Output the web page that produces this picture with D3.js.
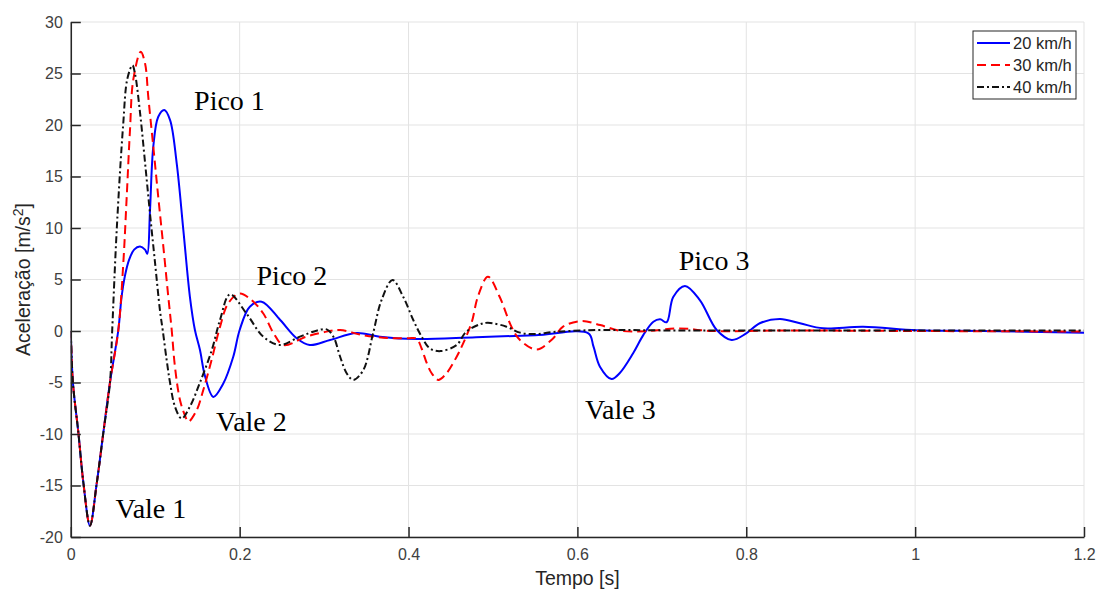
<!DOCTYPE html>
<html>
<head>
<meta charset="utf-8">
<script src="https://cdn.jsdelivr.net/npm/d3@7"></script>
<style>
  html, body { margin: 0; padding: 0; background: #fff; }
  svg { display: block; }
</style>
</head>
<body>
<svg id="chart" width="1097" height="590"></svg>
<script>
// Time instants (s) and accelerations (m/s²) for each speed
const t20 = [0, 0.0025, 0.009, 0.015, 0.0227, 0.0307, 0.0385, 0.0464, 0.0563, 0.06, 0.064, 0.069, 0.075, 0.082, 0.0879, 0.0906, 0.0938, 0.0977, 0.1036, 0.1107, 0.1175, 0.1254, 0.1333, 0.1411, 0.147, 0.153, 0.159, 0.1688, 0.1806, 0.1924, 0.2, 0.212, 0.226, 0.248, 0.2675, 0.283, 0.307, 0.3386, 0.366, 0.41, 0.48, 0.55, 0.613, 0.619, 0.6267, 0.6405, 0.65, 0.666, 0.678, 0.69, 0.698, 0.7057, 0.7135, 0.7274, 0.745, 0.765, 0.7827, 0.8, 0.816, 0.84, 0.8636, 0.891, 0.9385, 1.0018, 1.08, 1.2];
const a20 = [0, -5, -9.9, -14.8, -18.9, -14.8, -9.9, -5, 0.1, 3.2, 5.3, 6.9, 7.9, 8.2, 7.9, 7.5, 11.7, 17.9, 20.8, 21.45, 20.5, 16.3, 9.8, 3.3, 0.1, -1.85, -4.4, -6.4, -5.1, -2.5, 0.1, 2.36, 2.85, 1.07, -0.7, -1.36, -0.87, -0.2, -0.55, -0.78, -0.6, -0.42, -0.23, -1.5, -3.46, -4.66, -4.1, -2.16, -0.4, 0.9, 1.13, 0.85, 3.3, 4.37, 3.0, 0.1, -0.87, -0.23, 0.75, 1.17, 0.75, 0.26, 0.42, 0.07, 0, -0.18];

const t30 = [0, 0.0025, 0.009, 0.015, 0.0227, 0.0307, 0.0385, 0.0464, 0.0563, 0.0622, 0.0662, 0.0701, 0.074, 0.0828, 0.0879, 0.0918, 0.0977, 0.1036, 0.1096, 0.1155, 0.1195, 0.1234, 0.1293, 0.1352, 0.1392, 0.149, 0.157, 0.1668, 0.1767, 0.1865, 0.2, 0.214, 0.228, 0.24, 0.2517, 0.279, 0.303, 0.319, 0.346, 0.378, 0.4, 0.4096, 0.4155, 0.4215, 0.4274, 0.4352, 0.445, 0.457, 0.4647, 0.475, 0.482, 0.494, 0.508, 0.522, 0.532, 0.552, 0.5714, 0.583, 0.605, 0.627, 0.65, 0.68, 0.72, 0.76, 0.85, 1.0, 1.2];
const a30 = [0, -5, -9.9, -14.8, -18.9, -14.8, -9.9, -5, 0.1, 6.6, 13, 19.5, 24.4, 27.1, 26, 22.7, 17.9, 13, 8.2, 3.3, 0.1, -3.5, -6.7, -8.2, -8.8, -7.7, -5.7, -2.8, 0.4, 2.7, 3.65, 3.0, 1.7, -0.2, -1.36, -0.55, -0.06, 0.1, -0.4, -0.7, -0.7, -0.75, -1.7, -3.1, -4.1, -4.75, -4.1, -2.5, -1.2, 0.9, 3.3, 5.27, 3.3, 0.4, -0.87, -1.8, -0.7, 0.42, 0.97, 0.58, 0.03, -0.02, 0.25, 0.0, 0.05, 0.0, -0.05];

const t40 = [0, 0.0025, 0.009, 0.015, 0.0227, 0.0307, 0.0385, 0.0464, 0.049, 0.0545, 0.062, 0.067, 0.073, 0.076, 0.082, 0.088, 0.0938, 0.0998, 0.1056, 0.109, 0.1135, 0.1175, 0.1234, 0.1313, 0.141, 0.153, 0.167, 0.1767, 0.1885, 0.208, 0.228, 0.2477, 0.2714, 0.291, 0.303, 0.311, 0.319, 0.3267, 0.3346, 0.3464, 0.358, 0.368, 0.381, 0.3938, 0.4056, 0.4155, 0.4254, 0.438, 0.457, 0.468, 0.4846, 0.494, 0.516, 0.532, 0.5517, 0.57, 0.59, 0.63, 0.7, 0.8, 1.0, 1.2];
const a40 = [0, -5, -9.9, -14.8, -18.9, -14.8, -9.9, -5, 0, 10, 20, 24.5, 25.8, 25, 21.2, 16.3, 11.4, 6.6, 2, 0, -2.8, -5, -7.35, -8.5, -7.35, -5, -1.85, 1.07, 3.56, 1.7, -0.55, -1.36, -0.55, 0.03, 0.16, -0.55, -2.5, -4.1, -4.75, -3.8, -0.23, 3.0, 4.95, 3.3, 1.07, -0.55, -1.7, -1.95, -1.36, -0.1, 0.65, 0.8, 0.42, -0.16, -0.3, -0.1, 0.0, 0.1, 0.06, 0.05, 0.05, 0.05];

const seriesNames = ["20 km/h", "30 km/h", "40 km/h"];
const xTicks = [0, 0.2, 0.4, 0.6, 0.8, 1, 1.2];
const yTicks = [-20, -15, -10, -5, 0, 5, 10, 15, 20, 25, 30];

// Peak / valley labels, placed by (time, acceleration) of the text's left baseline
const noteText = ["Pico 1", "Vale 1", "Pico 2", "Vale 2", "Pico 3", "Vale 3"];
const noteT = [0.146, 0.053, 0.22, 0.172, 0.72, 0.609];
const noteA = [21.5, -18.2, 4.5, -9.75, 5.9, -8.5];

(function draw() {
  const svg = d3.select("#chart");
  const plotL = 70.8, plotR = 1084, plotT = 22, plotB = 537;

  const x = d3.scaleLinear().domain([0, 1.2]).range([plotL, plotR]);
  const y = d3.scaleLinear().domain([-20, 30]).range([plotB, plotT]);

  // Grid
  const grid = svg.append("g").attr("stroke", "#e3e3e3").attr("stroke-width", 1);
  grid.selectAll("line.v").data(xTicks).join("line").attr("class", "v")
    .attr("x1", d => x(d)).attr("x2", d => x(d))
    .attr("y1", plotT).attr("y2", plotB);
  grid.selectAll("line.h").data(yTicks).join("line").attr("class", "h")
    .attr("x1", plotL).attr("x2", plotR)
    .attr("y1", d => y(d)).attr("y2", d => y(d));

  // Clip for the curves
  svg.append("defs").append("clipPath").attr("id", "plot-clip")
    .append("rect").attr("x", plotL).attr("y", plotT - 2)
    .attr("width", plotR - plotL).attr("height", plotB - plotT + 4);

  const line = d3.line()
    .x(d => x(d[0])).y(d => y(d[1]))
    .curve(d3.curveCatmullRom.alpha(0.5));

  const styles = [
    { color: "#0000ff", dash: null },
    { color: "#ff0000", dash: "9,5" },
    { color: "#111111", dash: "7,3,2,3" }
  ];
  const series = [d3.zip(t20, a20), d3.zip(t30, a30), d3.zip(t40, a40)];

  // Drawn in order 20, 30, 40 km/h so the later series sit on top
  const curves = svg.append("g").attr("clip-path", "url(#plot-clip)");
  series.forEach((s, i) => {
    curves.append("path")
      .datum(s)
      .attr("d", line)
      .attr("fill", "none")
      .attr("stroke", styles[i].color)
      .attr("stroke-width", 2)
      .attr("stroke-linejoin", "round")
      .attr("stroke-dasharray", styles[i].dash);
  });

  // Axes
  const axisFont = "'Liberation Sans', Arial, sans-serif";
  const xAxis = d3.axisBottom(x).tickValues(xTicks).tickFormat(d => String(d))
    .tickSizeInner(-10).tickSizeOuter(0).tickPadding(12);
  const yAxis = d3.axisLeft(y).tickValues(yTicks).tickFormat(d => String(d))
    .tickSizeInner(-10).tickSizeOuter(0).tickPadding(8);

  const gx = svg.append("g").attr("transform", `translate(0,${plotB})`).call(xAxis);
  const gy = svg.append("g").attr("transform", `translate(${plotL},0)`).call(yAxis);
  [gx, gy].forEach(g => {
    g.select(".domain").attr("stroke", "#262626").attr("stroke-width", 1.5);
    g.selectAll(".tick line").attr("stroke", "#262626").attr("stroke-width", 1.5);
    g.selectAll(".tick text").attr("fill", "#404040")
      .style("font-family", axisFont).style("font-size", "16px");
  });

  // Axis titles
  svg.append("text")
    .attr("x", (plotL + plotR) / 2).attr("y", 585)
    .attr("text-anchor", "middle")
    .style("font-family", axisFont).style("font-size", "19.5px").attr("fill", "#262626")
    .text("Tempo [s]");

  const yl = svg.append("text")
    .attr("transform", `translate(30,${(plotT + plotB) / 2}) rotate(-90)`)
    .attr("text-anchor", "middle")
    .style("font-family", axisFont).style("font-size", "19.5px").attr("fill", "#262626");
  yl.append("tspan").text("Aceleração [m/s");
  yl.append("tspan").attr("dy", -7).style("font-size", "14px").text("2");
  yl.append("tspan").attr("dy", 7).text("]");

  // Annotations
  svg.append("g").selectAll("text").data(noteText).join("text")
    .attr("x", (d, i) => x(noteT[i]))
    .attr("y", (d, i) => y(noteA[i]))
    .style("font-family", "'Liberation Serif', 'Times New Roman', serif")
    .style("font-size", "28px").attr("fill", "#000")
    .text(d => d);

  // Legend
  const lg = svg.append("g").attr("transform", "translate(973,31)");
  lg.append("rect").attr("width", 103).attr("height", 68)
    .attr("fill", "#fff").attr("stroke", "#262626").attr("stroke-width", 1);
  seriesNames.forEach((name, i) => {
    const cy = 12 + i * 22;
    lg.append("line").attr("x1", 4).attr("x2", 37).attr("y1", cy).attr("y2", cy)
      .attr("stroke", styles[i].color).attr("stroke-width", 2)
      .attr("stroke-dasharray", styles[i].dash);
    lg.append("text").attr("x", 40).attr("y", cy).attr("dy", "0.36em")
      .style("font-family", axisFont).style("font-size", "16.5px").attr("fill", "#262626")
      .text(name);
  });
})();
</script>
</body>
</html>
